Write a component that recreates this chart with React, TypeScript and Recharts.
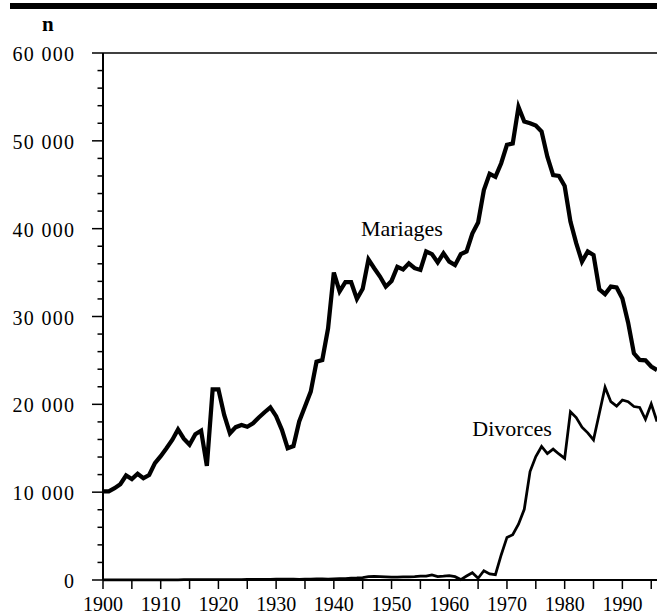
import React from 'react';
import { LineChart, Line, XAxis, YAxis, ReferenceLine, ReferenceDot } from 'recharts';

// Mariages et divorces, 1900-1996
const years = [
  1900, 1901, 1902, 1903, 1904, 1905, 1906, 1907, 1908, 1909,
  1910, 1911, 1912, 1913, 1914, 1915, 1916, 1917, 1918, 1919,
  1920, 1921, 1922, 1923, 1924, 1925, 1926, 1927, 1928, 1929,
  1930, 1931, 1932, 1933, 1934, 1935, 1936, 1937, 1938, 1939,
  1940, 1941, 1942, 1943, 1944, 1945, 1946, 1947, 1948, 1949,
  1950, 1951, 1952, 1953, 1954, 1955, 1956, 1957, 1958, 1959,
  1960, 1961, 1962, 1963, 1964, 1965, 1966, 1967, 1968, 1969,
  1970, 1971, 1972, 1973, 1974, 1975, 1976, 1977, 1978, 1979,
  1980, 1981, 1982, 1983, 1984, 1985, 1986, 1987, 1988, 1989,
  1990, 1991, 1992, 1993, 1994, 1995, 1996,
];

const mariages = [
  10100, 10100, 10450, 10900, 11900, 11500, 12100, 11600, 11950, 13300,
  14100, 15000, 15950, 17150, 16100, 15400, 16600, 17000, 13000, 21700,
  21700, 18800, 16700, 17400, 17650, 17450, 17850, 18500, 19100, 19650,
  18650, 17100, 15000, 15250, 18050, 19750, 21450, 24850, 25050, 28650,
  35000, 32850, 33900, 33900, 32000, 33150, 36500, 35500, 34550, 33400,
  34050, 35650, 35350, 36050, 35500, 35300, 37400, 37100, 36150, 37200,
  36250, 35850, 37100, 37400, 39450, 40700, 44400, 46250, 45900, 47450,
  49550, 49700, 53850, 52200, 52000, 51750, 51050, 48200, 46100, 46000,
  44850, 40800, 38350, 36250, 37400, 37000, 33100, 32550, 33400, 33300,
  32050, 29300, 25800, 25050, 25000, 24300, 23900,
];

const divorces = [
  10, 10, 12, 12, 15, 15, 18, 18, 20, 20,
  22, 25, 25, 28, 30, 30, 32, 35, 35, 40,
  45, 50, 50, 55, 55, 60, 60, 65, 70, 75,
  90, 110, 100, 95, 80, 100, 110, 130, 120, 110,
  130, 150, 170, 200, 230, 280, 380, 420, 380, 350,
  330, 340, 350, 360, 380, 430, 440, 570, 380, 430,
  500, 380, 50, 450, 830, 200, 1050, 700, 600, 2850,
  4850, 5150, 6350, 8050, 12350, 14050, 15200, 14400, 14900, 14350,
  13850, 19150, 18500, 17400, 16750, 15950, 18950, 21950, 20300, 19800,
  20500, 20300, 19750, 19650, 18300, 20050, 18050,
];

const xTicks = [
  1900, 1905, 1910, 1915, 1920, 1925, 1930, 1935, 1940, 1945,
  1950, 1955, 1960, 1965, 1970, 1975, 1980, 1985, 1990, 1995,
];

const yTicks = [
  0, 2000, 4000, 6000, 8000, 10000, 12000, 14000, 16000, 18000,
  20000, 22000, 24000, 26000, 28000, 30000, 32000, 34000, 36000, 38000,
  40000, 42000, 44000, 46000, 48000, 50000, 52000, 54000, 56000, 58000,
  60000,
];

const data = years.map((year, i) => ({
  year,
  mariages: mariages[i],
  divorces: divorces[i],
}));

const font = "'Liberation Serif', 'Times New Roman', 'DejaVu Serif', serif";

const fmt = (v: number) => {
  if (v === 0) return '0';
  const s = String(v);
  return s.slice(0, s.length - 3) + ' ' + s.slice(-3);
};

const YTick = (props: any) => {
  const { x, y, payload } = props;
  const major = payload.value % 10000 === 0;
  return (
    <g>
      <line x1={x - (major ? 11 : 5.5)} x2={x} y1={y} y2={y} stroke='#000' strokeWidth={1.5} />
      {major && (
        <text
          x={x - 27.7}
          y={y + 8}
          textAnchor='end'
          style={{ fontSize: 20, fontFamily: font, fill: '#000', letterSpacing: 1.3 }}
        >
          {fmt(payload.value)}
        </text>
      )}
    </g>
  );
};

const XTick = (props: any) => {
  const { x, y, payload } = props;
  const major = payload.value % 10 === 0;
  return (
    <g>
      <line x1={x} x2={x} y1={y} y2={y + 9} stroke='#000' strokeWidth={1.5} />
      {major && (
        <text
          x={x}
          y={y + 31}
          textAnchor='middle'
          style={{ fontSize: 20, fontFamily: font, fill: '#000' }}
        >
          {payload.value}
        </text>
      )}
    </g>
  );
};

const App = () => {
  return (
    <div style={{ position: 'absolute', left: 0, top: 0, width: 657, height: 614, background: '#fff' }}>
      <div style={{ position: 'absolute', left: 10, top: 3, width: 647, height: 6, background: '#000' }} />
      <div
        style={{
          position: 'absolute',
          left: 42,
          top: 12,
          fontFamily: font,
          fontSize: 21,
          fontWeight: 'bold',
          lineHeight: '24px',
        }}
      >
        n
      </div>
      <LineChart
        width={657}
        height={614}
        data={data}
        margin={{ top: 53, right: 0, bottom: 0, left: 0 }}
      >
        <XAxis
          dataKey='year'
          type='number'
          domain={[1900, 1996]}
          ticks={xTicks}
          interval={0}
          height={34}
          tickSize={0}
          tickMargin={0}
          tick={<XTick />}
          axisLine={{ stroke: '#000', strokeWidth: 2 }}
        />
        <YAxis
          type='number'
          domain={[0, 60000]}
          ticks={yTicks}
          interval={0}
          width={103}
          tickSize={0}
          tickMargin={0}
          tick={<YTick />}
          axisLine={{ stroke: '#000', strokeWidth: 2 }}
        />
        <ReferenceLine y={60000} stroke='#000' strokeWidth={1.5} />
        <Line
          dataKey='mariages'
          type='linear'
          stroke='#000'
          strokeWidth={4.25}
          dot={false}
          isAnimationActive={false}
        />
        <Line
          dataKey='divorces'
          type='linear'
          stroke='#000'
          strokeWidth={2.75}
          dot={false}
          isAnimationActive={false}
        />
        <ReferenceDot
          x={1944.7}
          y={40000}
          r={0}
          fill='none'
          stroke='none'
          label={{
            value: 'Mariages',
            position: 'right',
            offset: 0,
            style: { fontSize: 22, fill: '#000', fontFamily: font },
          }}
        />
        <ReferenceDot
          x={1964}
          y={17300}
          r={0}
          fill='none'
          stroke='none'
          label={{
            value: 'Divorces',
            position: 'right',
            offset: 0,
            style: { fontSize: 22, fill: '#000', fontFamily: font },
          }}
        />
      </LineChart>
    </div>
  );
};

export default App;
